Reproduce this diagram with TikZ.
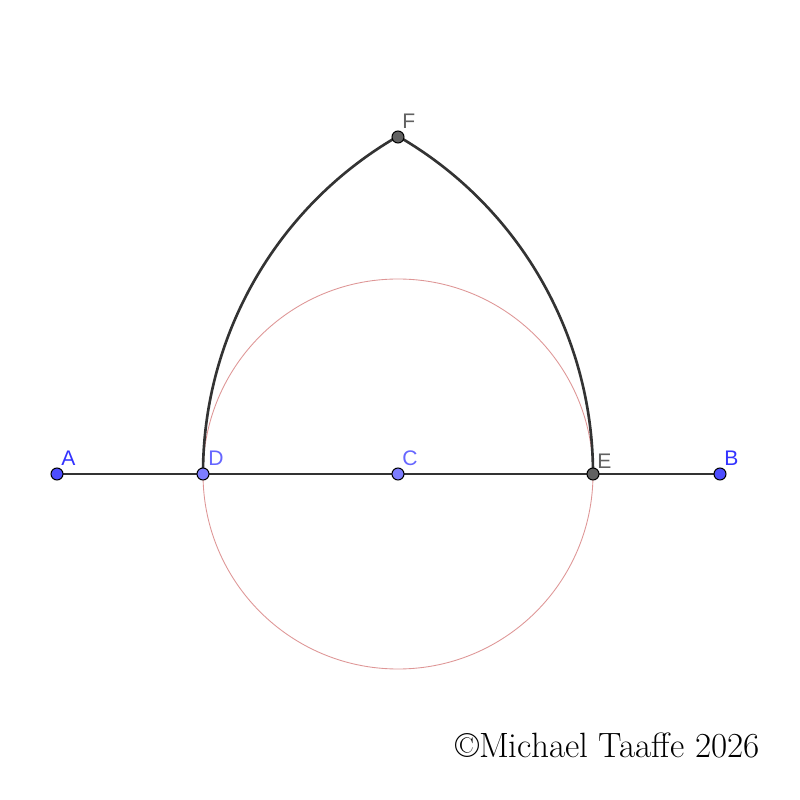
\documentclass[tikz,border=0pt]{standalone}
\usepackage{fontspec}
\setsansfont{Liberation Sans}
\usetikzlibrary{calc}
\definecolor{ptblue}{RGB}{77, 77, 255}
\definecolor{ptlight}{RGB}{125, 125, 255}
\definecolor{ptgray}{RGB}{97, 97, 97}
\definecolor{lblblue}{RGB}{51, 51, 255}
\definecolor{lbllight}{RGB}{102, 102, 255}
\definecolor{segdark}{RGB}{51, 51, 51}
\definecolor{circpink}{RGB}{222, 150, 150}

\begin{document}
\begin{tikzpicture}[x=0.02cm, y=0.02cm, font=\sffamily\fontsize{12}{14}\selectfont]
  \tikzset{point/.style={draw=black, line width=0.6pt, circle, minimum size=0.24cm, inner sep=0pt},
           seg/.style={draw=segdark, line width=1.5pt},
           guide/.style={draw=circpink, line width=0.5pt}}

  % constants
  \def \R {195}
  \def \BigR {390}

  \useasboundingbox (-398,-326) rectangle (402,474);

    \coordinate(A) at (-341, 0);
    \coordinate(D) at (-\R, 0);
    \coordinate(C) at (0, 0);
    \coordinate(E) at (\R, 0);
    \coordinate(B) at (322, 0);
    \coordinate(F) at (0, 337);

    % guide circle round C
    \draw[guide] (C) circle (\R);

    % line and the two arcs
    \path[seg] (A) -- (B);
    \path[seg] (D) arc (180:120:\BigR);
    \path[seg] (E) arc (0:60:\BigR);

    % Draw the points
    \foreach \pos/\name/\col in 
        {
          {(A)/a/ptblue},
          {(B)/b/ptblue},
          {(D)/d/ptlight},
          {(C)/c/ptlight},
          {(E)/e/ptgray},
          {(F)/f/ptgray}%
        }
        \node[point, fill=\col] (\name) at \pos {};

      \node[text=lblblue, anchor=base west, inner sep=0pt] (la) at ($(A)+(4,8)$) {A};
      \node[text=lblblue, anchor=base west, inner sep=0pt] (lb) at ($(B)+(4,8)$) {B};
      \node[text=lbllight, anchor=base west, inner sep=0pt] (ld) at ($(D)+(5,8)$) {D};
      \node[text=lbllight, anchor=base west, inner sep=0pt] (lc) at ($(C)+(4,8)$) {C};
      \node[text=ptgray, anchor=base west, inner sep=0pt] (le) at ($(E)+(4,5)$) {E};
      \node[text=ptgray, anchor=base west, inner sep=0pt] (lf) at ($(F)+(4,8)$) {F};

    \node[anchor=base east, inner sep=0pt, font=\rmfamily\fontsize{20}{24}\selectfont] (copy) at (362, -283) {\textcopyright Michael Taaffe 2026};

\end{tikzpicture}
\end{document}
